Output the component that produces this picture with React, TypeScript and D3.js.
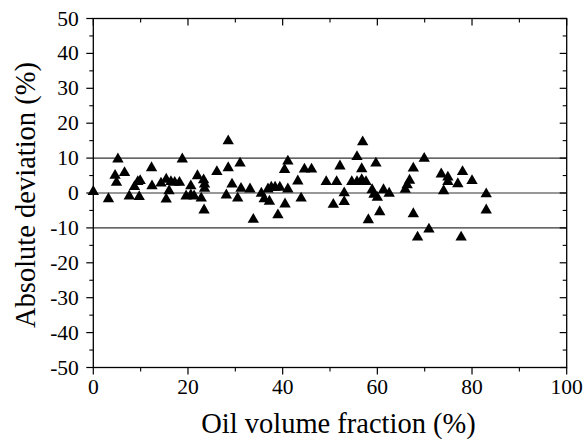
import React from "react";
import * as d3 from "d3";

const xValues: number[] = [
  0, 3.2, 4.6, 4.9, 5.2, 6.6, 7.6, 8.7, 9.4, 9.9, 9.7, 12.3, 12.4, 14.3, 15.4, 15.4, 16.0, 16.4, 17.2, 18.2,
  18.8, 19.6, 20.6, 20.6, 21.3, 22.0, 22.8, 23.3, 23.5, 23.5, 23.4, 26.1, 28.5, 28.5, 31.0, 28.1, 29.3, 30.5,
  31.2, 33.1, 33.8, 35.5, 36.1, 37.2, 36.9, 37.6, 38.4, 39.4, 41.1, 41.1, 40.4, 44.6, 46.1, 43.2, 40.5, 43.9,
  39.0, 49.2, 51.4, 52.1, 50.7, 53.0, 53.0, 55.7, 56.9, 56.7, 59.7, 54.6, 55.7, 56.7, 57.6, 58.9, 59.3, 60.0,
  61.3, 62.5, 60.5, 58.1, 65.9, 66.3, 66.8, 67.6, 69.9, 73.5, 74.9, 74.9, 78.0, 77.0, 80.0, 74.0, 83.0, 83.0,
  67.6, 70.9, 68.5, 77.7,
];
const yValues: number[] = [
  0.4, -1.7, 5.0, 3.0, 9.7, 5.8, -0.9, 1.8, 3.2, 3.5, -1.1, 7.2, 2.0, 2.8, 3.9, -1.8, 0.6, 3.2, 3.0, 3.0,
  9.7, -0.9, 2.0, -0.6, -0.9, 4.9, -1.5, 3.7, 2.5, 1.3, -4.9, 6.1, 7.2, 14.9, 8.5, -0.6, 2.5, -1.5,
  1.3, 1.1, -7.6, -0.1, -1.7, -2.4, 1.1, 1.6, 1.6, 1.6, 1.1, 9.1, 6.7, 6.8, 6.8, 3.4, -3.2, -1.5,
  -6.3, 3.2, 3.2, 7.7, -3.3, 0.0, -2.5, 10.4, 14.6, 6.9, 8.5, 3.2, 3.2, 3.8, 3.2, 0.9, -0.4, -1.3,
  0.9, -0.1, -5.4, -7.7, 1.0, 2.3, 3.6, 7.1, 9.9, 5.4, 4.5, 3.2, 6.1, 2.6, 3.5, 0.6, -0.3, -4.9,
  -6.0, -10.4, -12.7, -12.7,
];
const xTicks: number[] = [0, 20, 40, 60, 80, 100];
const xMinorTicks: number[] = [10, 30, 50, 70, 90];
const yTicks: number[] = [-50, -40, -30, -20, -10, 0, 10, 20, 30, 40, 50];
const yMinorTicks: number[] = [-45, -35, -25, -15, -5, 5, 15, 25, 35, 45];
const refLines: number[] = [10, 0, -10];
const xLabel = "Oil volume fraction (%)";
const yLabel = "Absolute deviation (%)";

const W = 583;
const H = 445;
const L = 93.3;
const R = 566.7;
const T = 18.5;
const B = 367.5;

export default function App() {
  const x = d3.scaleLinear().domain([0, 100]).range([L, R]);
  const y = d3.scaleLinear().domain([-50, 50]).range([B, T]);
  const tri = d3.symbol().type(d3.symbolTriangle).size(56)() as string;
  const points = xValues.map((v, i) => ({ x: v, y: yValues[i] }));
  const stroke = "#000";
  return (
    <div style={{ position: "absolute", left: 0, top: 0, fontFamily: "Liberation Serif" }}>
      <svg width={W} height={H} style={{ display: "block" }}>
        <style>{`text { font-family: "Liberation Serif", "Tinos", "Times New Roman", serif; }`}</style>
        <rect x={0} y={0} width={W} height={H} fill="#fff" />
        {refLines.map((v) => (
          <line key={"r" + v} x1={L} x2={R} y1={y(v)} y2={y(v)} stroke="#333" strokeWidth={1.1} />
        ))}
        {points.map((p, i) => (
          <path key={i} d={tri} transform={`translate(${x(p.x)},${y(p.y)})`} fill="#000" />
        ))}
        <rect x={L} y={T} width={R - L} height={B - T} fill="none" stroke={stroke} strokeWidth={1.3} />
        {yTicks.map((v) => (
          <g key={"yl" + v}>
            <line x1={L - 7} x2={L} y1={y(v)} y2={y(v)} stroke={stroke} strokeWidth={1.2} />
            <line x1={R - 7} x2={R} y1={y(v)} y2={y(v)} stroke={stroke} strokeWidth={1.2} />
            <text x={L - 14.5} y={y(v) + 7} textAnchor="end" fontSize={21.5} fill="#000">
              {v}
            </text>
          </g>
        ))}
        {yMinorTicks.map((v) => (
          <g key={"ym" + v}>
            <line x1={L - 4} x2={L} y1={y(v)} y2={y(v)} stroke={stroke} strokeWidth={1.1} />
            <line x1={R - 4} x2={R} y1={y(v)} y2={y(v)} stroke={stroke} strokeWidth={1.1} />
          </g>
        ))}
        {xTicks.map((v) => (
          <g key={"xt" + v}>
            <line x1={x(v)} x2={x(v)} y1={B} y2={B + 7} stroke={stroke} strokeWidth={1.2} />
            <line x1={x(v)} x2={x(v)} y1={T} y2={T + 7} stroke={stroke} strokeWidth={1.2} />
            <text x={x(v)} y={B + 26} textAnchor="middle" fontSize={21.5} fill="#000">
              {v}
            </text>
          </g>
        ))}
        {xMinorTicks.map((v) => (
          <g key={"xm" + v}>
            <line x1={x(v)} x2={x(v)} y1={B} y2={B + 4} stroke={stroke} strokeWidth={1.1} />
            <line x1={x(v)} x2={x(v)} y1={T} y2={T + 4} stroke={stroke} strokeWidth={1.1} />
          </g>
        ))}
        <text x={338.5} y={433} textAnchor="middle" fontSize={28.5} fill="#000">
          {xLabel}
        </text>
        <text transform={`translate(35,195) rotate(-90)`} textAnchor="middle" fontSize={28.5} fill="#000">
          {yLabel}
        </text>
      </svg>
    </div>
  );
}
